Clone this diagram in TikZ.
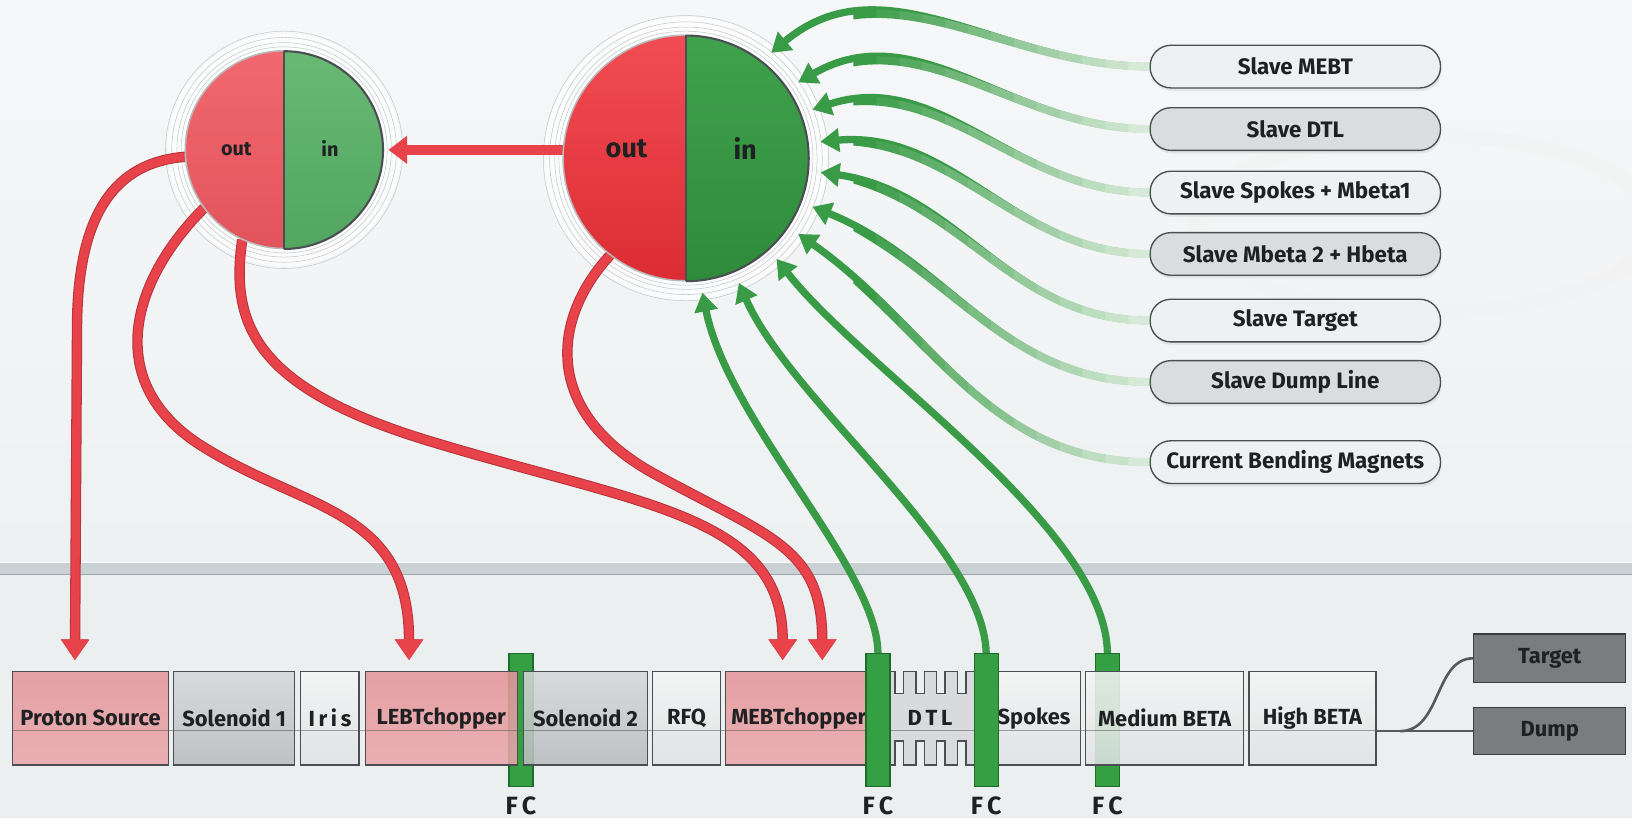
\documentclass[tikz,border=0pt]{standalone}
\usepackage{fontspec}
\setmainfont{Fira Sans}
\usetikzlibrary{arrows.meta,shadows}
\definecolor{bgtop}{HTML}{F5F7F8}
\definecolor{bgmid}{HTML}{EEF1F2}
\definecolor{bgbot}{HTML}{ECEFF0}
\definecolor{divc}{HTML}{C9D1D4}
\definecolor{divd}{HTML}{9EA8AC}
\definecolor{redA}{HTML}{E8434B}
\definecolor{redD}{HTML}{B8343B}
\definecolor{bigRT}{HTML}{F24C53}
\definecolor{bigRB}{HTML}{DC2C33}
\definecolor{smRT}{HTML}{F2686E}
\definecolor{smRB}{HTML}{E2545B}
\definecolor{bigGT}{HTML}{40A24D}
\definecolor{bigGB}{HTML}{2E8B3B}
\definecolor{smGT}{HTML}{68B974}
\definecolor{smGB}{HTML}{52A660}
\definecolor{grnA}{HTML}{3A9B47}
\definecolor{grnD}{HTML}{1F6B2A}
\definecolor{grnL}{HTML}{E4F1E4}
\definecolor{fcG}{HTML}{34A043}
\definecolor{edge}{HTML}{4A4E52}
\definecolor{slL}{HTML}{EEF0F1}
\definecolor{slD}{HTML}{DADDDF}
\definecolor{rbT}{HTML}{E5959A}
\definecolor{rbB}{HTML}{E9A7AA}
\definecolor{gbT}{HTML}{D5D7D9}
\definecolor{gbB}{HTML}{B9BCBF}
\definecolor{wbT}{HTML}{F4F5F5}
\definecolor{wbB}{HTML}{E0E2E3}
\definecolor{dtlF}{HTML}{D8DADC}
\definecolor{darkbox}{HTML}{7A7C7F}
\definecolor{darkedge}{HTML}{3A3C3E}
\definecolor{txt}{HTML}{1E2022}
\definecolor{linegray}{HTML}{56595C}
\definecolor{ringc}{HTML}{C4C8CA}
\newcommand\gfade[1]{%
  \foreach \k in {0,...,12}{%
    \pgfmathsetmacro\xa{820+\k*22}%
    \pgfmathsetmacro\xb{\xa+22.6}%
    \pgfmathtruncatemacro\pc{100-\k*7.6}%
    \begin{scope}
      \clip (\xa,0) rectangle (\xb,786);
      \draw[line width=7.8pt, draw=grnA!\pc!grnL] #1;
    \end{scope}}}
\begin{document}
\begin{tikzpicture}[x=1pt,y=1pt,
  every node/.style={font=\bfseries\fontsize{21}{25}\selectfont, text=txt},
  slave/.style={draw=edge, line width=1.3pt, rounded corners=20pt, minimum width=279pt,
    minimum height=41pt, inner sep=0pt, font=\bfseries\fontsize{21.5}{25}\selectfont,
    drop shadow={opacity=.13, shadow xshift=1pt, shadow yshift=-3pt}},
  slaveL/.style={slave, fill=slL},
  slaveD/.style={slave, fill=slD},
  box/.style={draw=edge, line width=1.3pt, minimum height=90pt, inner sep=0pt,
    fill opacity=.88, text opacity=1},
  redbox/.style={box, top color=rbT, bottom color=rbB},
  graybox/.style={box, top color=gbT, bottom color=gbB},
  whitebox/.style={box, top color=wbT, bottom color=wbB},
  darkb/.style={draw=darkedge, line width=1.3pt, fill=darkbox, minimum width=146pt,
    inner sep=0pt, text=txt},
  fcbar/.style={draw=grnD, line width=1.2pt, fill=fcG, minimum width=23pt,
    minimum height=128pt, inner sep=0pt},
  fclabel/.style={font=\bfseries\fontsize{24}{26}\selectfont},
  redline/.style={draw=redA, line width=8pt, preaction={draw=redD, line width=10pt},
    -{Triangle[length=20pt,width=26pt]}},
  gline/.style={draw=grnA, line width=7pt, -{Triangle[length=18pt,width=22pt]}},
  ring/.style={draw=ringc, line width=.5pt}
]
\useasboundingbox (0,0) rectangle (1568,786);
% background
\shade[top color=bgtop, bottom color=bgmid] (0,245) rectangle (1568,786);
\fill[bgbot] (0,0) rectangle (1568,234);
\draw[white!90!gray, line width=14pt, opacity=.6] (1370,571) ellipse (220pt and 85pt);
\fill[divc] (0,234) rectangle (1568,245);
\draw[divd, line width=1pt] (0,234) -- (1568,234);
\draw[white, line width=1pt] (0,245.5) -- (1568,245.5);

% circle anchors
\node[circle, minimum size=236pt, inner sep=0pt] (big) at (659,634) {};
\node[circle, minimum size=260pt, inner sep=0pt] (bigR) at (659,634) {};
\node[circle, minimum size=190pt, inner sep=0pt] (sm) at (273,642) {};
\node[circle, minimum size=200pt, inner sep=0pt] (smR) at (273,642) {};

% halos
\fill[white, opacity=.7] (big.center) circle (136pt);
\fill[white, opacity=.7] (sm.center) circle (112pt);
\foreach \r in {122,126,131,137} \draw[ring] (big.center) circle (\r pt);
\foreach \r in {99,103,108,114} \draw[ring] (sm.center) circle (\r pt);

% FC bars under boxes
\node[fcbar] (fcA) at (500.5,94) {};
\node[fcbar] (fcD) at (1064,94) {};

% beamline boxes
\node[redbox, minimum width=150pt] (ps) at (87,96) {Proton Source};
\node[graybox, minimum width=116pt] (sol1) at (225,96) {Solenoid 1};
\node[whitebox, minimum width=56pt] (iris) at (317,96) {I\,r\,i\,s};
\node[redbox, minimum width=146pt] (lebt) at (424,96) {LEBTchopper};
\node[graybox, minimum width=119pt] (sol2) at (562.5,96) {Solenoid 2};
\node[whitebox, minimum width=65pt] (rfq) at (659.5,96) {RFQ};
\node[redbox, minimum width=141pt] (mebt) at (767.5,96) {MEBTchopper};
\filldraw[fill=dtlF, draw=edge, line width=1.3pt]
  (845,51) -- (845,141) -- (860,141) -- (860,120) -- (868,120) -- (868,141)
  -- (880,141) -- (880,120) -- (888,120) -- (888,141) -- (900,141) -- (900,120)
  -- (908,120) -- (908,141) -- (920,141) -- (920,120) -- (928,120) -- (928,141)
  -- (942,141) -- (942,51) -- (928,51) -- (928,74) -- (920,74) -- (920,51)
  -- (908,51) -- (908,74) -- (900,74) -- (900,51) -- (888,51) -- (888,74)
  -- (880,74) -- (880,51) -- (868,51) -- (868,74) -- (860,74) -- (860,51) -- cycle;
\node (dtl) at (893.5,96) {D\,T\,L};
\node[whitebox, minimum width=89pt] (spk) at (993.5,96) {Spokes};
\node[whitebox, minimum width=152pt] (mbeta) at (1119,96) {Medium BETA};
\node[whitebox, minimum width=122pt] (hbeta) at (1261,96) {High BETA};

% beam line
\draw[linegray, line width=1.5pt, opacity=.55] (ps.west |- 0,84) -- (hbeta.east |- 0,84);

% FC bars over boxes
\node[fcbar] (fcB) at (843.5,94) {};
\node[fcbar] (fcC) at (947.5,94) {};
\node[fclabel] (fcAl) at (fcA |- 0,12) {F\,C};
\node[fclabel] (fcBl) at (fcB |- 0,12) {F\,C};
\node[fclabel] (fcCl) at (fcC |- 0,12) {F\,C};
\node[fclabel] (fcDl) at (fcD |- 0,12) {F\,C};

% target / dump
\node[darkb, minimum height=47pt] (target) at (1489,153.5) {Target};
\node[darkb, minimum height=45pt] (dump) at (1489,83.5) {Dump};
\coordinate (split) at (1345,83.5);
\draw[linegray, line width=2.5pt] (hbeta.east |- dump.west) -- (dump.west);
\draw[linegray, line width=2.5pt] (split) .. controls (1385,83.5) and (1378,153.5) .. (target.west);

% slave nodes
\node[slaveL] (sMEBT) at (1244.5,722) {Slave MEBT};
\node[slaveD] (sDTL) at (1244.5,662) {Slave DTL};
\node[slaveL] (sSpk) at (1244.5,601) {Slave Spokes + Mbeta1};
\node[slaveD] (sMb2) at (1244.5,542) {Slave Mbeta 2 + Hbeta};
\node[slaveL] (sTgt) at (1244.5,478) {Slave Target};
\node[slaveD] (sDump) at (1244.5,419) {Slave Dump Line};
\node[slaveL] (sCBM) at (1244.5,342) {Current Bending Magnets};

% red connectors
\draw[redline] (sm.184) .. controls (110,630) and (74,580) .. (74,470) -- ([shift={(-15pt,10pt)}]ps.north);
\draw[redline] (sm.216) .. controls (125,515) and (100,420) .. (190,360)
  .. controls (290,295) and (393,300) .. ([shift={(-31pt,10pt)}]lebt.north);
\draw[redline] (sm.245) .. controls (220,470) and (250,410) .. (420,360)
  .. controls (620,300) and (752,290) .. ([shift={(-15.5pt,10pt)}]mebt.north);
\draw[redline] (big.232) .. controls (530,480) and (520,390) .. (630,330)
  .. controls (740,270) and (790,260) .. ([shift={(22.5pt,10pt)}]mebt.north);
\draw[draw=redA, line width=10pt, -{Triangle[length=18pt,width=26pt]}] (big.west |- smR.east) -- (smR.east);

% green connectors from FCs
\draw[gline] (fcB.north) .. controls (843,240) and (700,380) .. (bigR.-83);
\draw[gline] (fcC.north) .. controls (945,260) and (760,400) .. (bigR.-67);
\draw[gline] (fcD.north) .. controls (1062,280) and (830,430) .. (bigR.-48);

% green connectors from slave nodes (fading towards the nodes)
\def\gpA{(sMEBT.west) to[out=180,in=40] (bigR.51)}
\def\gpB{(sDTL.west) to[out=180,in=30] (bigR.34)}
\def\gpC{(sSpk.west) to[out=180,in=18] (bigR.21)}
\def\gpD{(sMb2.west) to[out=180,in=5] (bigR.7)}
\def\gpE{(sTgt.west) to[out=180,in=-8] (bigR.-6)}
\def\gpF{(sDump.west) to[out=180,in=-22] (bigR.-21)}
\def\gpG{(sCBM.west) to[out=180,in=-35] (bigR.-34)}
\foreach \p in {\gpA,\gpB,\gpC,\gpD,\gpE,\gpF,\gpG}{%
  \draw[gline] \p;
  \gfade{\p}}

% circles
\shade[top color=bigRT, bottom color=bigRB] (big.north) arc[start angle=90, end angle=270, radius=118pt] -- cycle;
\shade[top color=bigGT, bottom color=bigGB] (big.south) arc[start angle=-90, end angle=90, radius=118pt] -- cycle;
\draw[gray!55, line width=1.5pt] (big.north) arc[start angle=90, end angle=270, radius=118pt];
\draw[edge, line width=2pt] (big.south) arc[start angle=-90, end angle=90, radius=118pt];
\draw[edge, line width=1.6pt] (big.north) -- (big.south);
\shade[top color=smRT, bottom color=smRB] (sm.north) arc[start angle=90, end angle=270, radius=95pt] -- cycle;
\shade[top color=smGT, bottom color=smGB] (sm.south) arc[start angle=-90, end angle=90, radius=95pt] -- cycle;
\draw[gray!55, line width=1.5pt] (sm.north) arc[start angle=90, end angle=270, radius=95pt];
\draw[edge, line width=2pt] (sm.south) arc[start angle=-90, end angle=90, radius=95pt];
\draw[edge, line width=1.6pt] (sm.north) -- (sm.south);
\node[font=\bfseries\fontsize{26}{30}\selectfont] (bigout) at (602,643) {out};
\node[font=\bfseries\fontsize{26}{30}\selectfont] (bigin) at (716,643) {in};
\node[font=\bfseries\fontsize{19}{22}\selectfont] (smout) at (227,643) {out};
\node[font=\bfseries\fontsize{19}{22}\selectfont] (smin) at (317,643) {in};
\end{tikzpicture}
\end{document}
